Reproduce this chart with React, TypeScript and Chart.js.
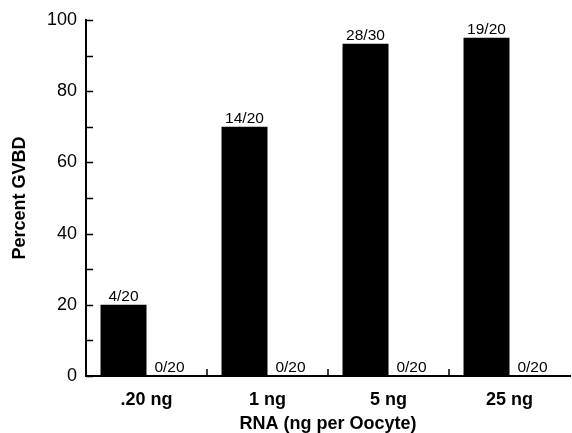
import React, { useEffect, useRef } from "react";
import { Chart, registerables } from "chart.js";

Chart.register(...registerables);

const categories = [".20 ng", "1 ng", "5 ng", "25 ng"];
const rnaValues = [20, 70, 93.3, 95];
const controlValues = [0, 0, 0, 0];
const rnaLabels = ["4/20", "14/20", "28/30", "19/20"];
const controlLabels = ["0/20", "0/20", "0/20", "0/20"];
const yMin = 0;
const yMax = 100;
const yTickStep = 10;
const yLabelStep = 20;

const FONT = "'Liberation Sans', Arial, Helvetica, sans-serif";

const barLabelPlugin = {
  id: "barLabels",
  afterDatasetsDraw(chart: any) {
    const ctx = chart.ctx;
    ctx.save();
    ctx.fillStyle = "#000";
    ctx.font = `15.5px ${FONT}`;
    ctx.textAlign = "center";
    ctx.textBaseline = "alphabetic";
    const sets = [rnaLabels, controlLabels];
    sets.forEach((labels, di) => {
      const meta = chart.getDatasetMeta(di);
      meta.data.forEach((bar: any, i: number) => {
        ctx.fillText(labels[i], bar.x, bar.y - 4);
      });
    });
    ctx.restore();
  },
};

const innerTicksPlugin = {
  id: "innerTicks",
  afterDraw(chart: any) {
    const ctx = chart.ctx;
    const xs = chart.scales.x;
    const ys = chart.scales.y;
    const len = 7;
    ctx.save();
    ctx.strokeStyle = "#000";
    ctx.lineWidth = 1.5;
    ctx.beginPath();
    for (let v = yMin; v <= yMax; v += yTickStep) {
      const py = Math.round(ys.getPixelForValue(v)) + 0.5;
      ctx.moveTo(xs.left, py);
      ctx.lineTo(xs.left + len, py);
    }
    for (let i = 1; i < categories.length; i++) {
      const px = Math.round((xs.getPixelForValue(i - 1) + xs.getPixelForValue(i)) / 2);
      ctx.moveTo(px, ys.bottom);
      ctx.lineTo(px, ys.bottom - len);
    }
    ctx.stroke();
    ctx.restore();
  },
};

export default function App() {
  const ref = useRef<HTMLCanvasElement | null>(null);

  useEffect(() => {
    document.body.style.margin = "0";
    const chart = new Chart(ref.current as HTMLCanvasElement, {
      type: "bar",
      data: {
        labels: categories,
        datasets: [
          {
            data: rnaValues,
            backgroundColor: "#000",
            borderWidth: 0,
            categoryPercentage: 0.76,
            barPercentage: 1,
          },
          {
            data: controlValues,
            backgroundColor: "#000",
            borderWidth: 0,
            categoryPercentage: 0.76,
            barPercentage: 1,
          },
        ],
      },
      options: {
        animation: false,
        responsive: true,
        maintainAspectRatio: false,
        layout: { padding: { top: 20, right: 2, left: 0, bottom: 0 } },
        plugins: {
          legend: { display: false },
          tooltip: { enabled: false },
        },
        scales: {
          x: {
            grid: { display: false, drawTicks: false },
            border: { display: true, color: "#000", width: 2 },
            ticks: {
              color: "#000",
              padding: 13,
              font: { family: FONT, size: 18, weight: "bold" },
            },
            title: {
              display: true,
              text: "RNA (ng per Oocyte)",
              color: "#000",
              font: { family: FONT, size: 18, weight: "bold", lineHeight: 1 },
              padding: { top: 0, bottom: 0 },
            },
            afterFit: (s: any) => {
              s.height = 57;
            },
          },
          y: {
            min: yMin,
            max: yMax,
            grid: { display: false, drawTicks: false },
            border: { display: true, color: "#000", width: 2 },
            ticks: {
              stepSize: yTickStep,
              color: "#000",
              padding: 9,
              font: { family: FONT, size: 18 },
              callback: (v: any) => (Number(v) % yLabelStep === 0 ? String(v) : ""),
            },
            title: {
              display: true,
              text: "Percent GVBD",
              color: "#000",
              font: { family: FONT, size: 18, weight: "bold", lineHeight: 1 },
              padding: { top: 11, bottom: 0 },
            },
            afterFit: (s: any) => {
              s.width = 86;
            },
          },
        },
      },
      plugins: [barLabelPlugin, innerTicksPlugin],
    });
    return () => chart.destroy();
  }, []);

  return (
    <div style={{ position: "absolute", left: 0, top: 0, width: 572, height: 433, background: "#fff" }}>
      <canvas ref={ref} />
    </div>
  );
}
